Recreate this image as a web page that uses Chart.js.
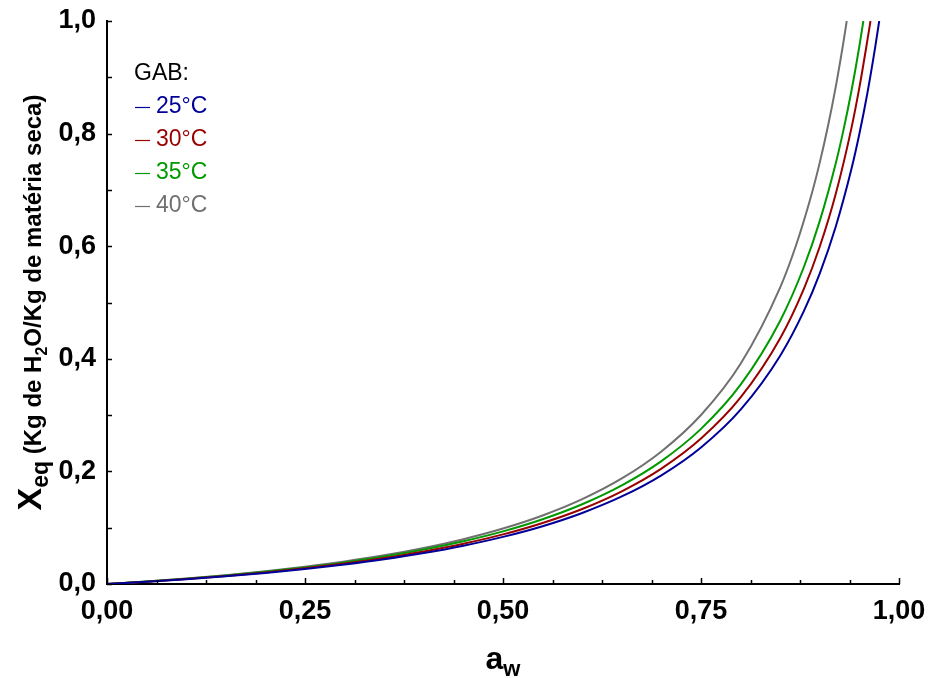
<!DOCTYPE html>
<html>
<head>
<meta charset="utf-8">
<script src="https://cdn.jsdelivr.net/npm/chart.js@4.4.0/dist/chart.umd.min.js"></script>
<style>
  html, body { margin: 0; padding: 0; background: #fff; }
  canvas { display: block; }
</style>
</head>
<body>
<canvas id="chart" width="928" height="678"></canvas>
<script>
// values (aw on x, Xeq on y)
const aw25 = [0, 0.05, 0.1, 0.15, 0.2, 0.25, 0.3, 0.35, 0.4, 0.45, 0.5, 0.55, 0.6, 0.65, 0.7, 0.75, 0.8, 0.85, 0.88, 0.9, 0.92, 0.94, 0.95, 0.96, 0.97, 0.975];
const x25  = [0, 0.004, 0.0085, 0.0137, 0.0197, 0.0266, 0.0346, 0.0439, 0.0549, 0.068, 0.0837, 0.1027, 0.1262, 0.1555, 0.1931, 0.2425, 0.3096, 0.4055, 0.485, 0.5518, 0.634, 0.7374, 0.7997, 0.8712, 0.9539, 1.0];

const aw30 = [0, 0.05, 0.1, 0.15, 0.2, 0.25, 0.3, 0.35, 0.4, 0.45, 0.5, 0.55, 0.6, 0.65, 0.7, 0.75, 0.8, 0.85, 0.88, 0.9, 0.92, 0.94, 0.95, 0.96, 0.964];
const x30  = [0, 0.0042, 0.0089, 0.0144, 0.0206, 0.0278, 0.0363, 0.0461, 0.0577, 0.0715, 0.0881, 0.1084, 0.1333, 0.1647, 0.205, 0.2583, 0.3313, 0.4365, 0.5247, 0.5994, 0.6922, 0.8102, 0.882, 0.965, 1.0];

const aw35 = [0, 0.05, 0.1, 0.15, 0.2, 0.25, 0.3, 0.35, 0.4, 0.45, 0.5, 0.55, 0.6, 0.65, 0.7, 0.75, 0.8, 0.85, 0.88, 0.9, 0.92, 0.93, 0.94, 0.95, 0.955];
const x35  = [0, 0.0044, 0.0094, 0.0152, 0.0218, 0.0295, 0.0384, 0.0488, 0.0612, 0.0759, 0.0935, 0.1151, 0.1417, 0.1752, 0.2183, 0.2755, 0.354, 0.4677, 0.5635, 0.645, 0.7464, 0.8071, 0.8762, 0.9556, 1.0];

const aw40 = [0, 0.05, 0.1, 0.15, 0.2, 0.25, 0.3, 0.35, 0.4, 0.45, 0.5, 0.55, 0.6, 0.65, 0.7, 0.75, 0.8, 0.85, 0.87, 0.89, 0.9, 0.91, 0.92, 0.93, 0.934];
const x40  = [0, 0.0045, 0.0097, 0.0157, 0.0226, 0.0306, 0.0399, 0.0509, 0.064, 0.0796, 0.0985, 0.1217, 0.1507, 0.1875, 0.2355, 0.3002, 0.3912, 0.527, 0.6017, 0.6941, 0.7489, 0.8112, 0.8821, 0.9639, 1.0];

const seriesLabels = ["25°C", "30°C", "35°C", "40°C"];
const seriesColors = ["#000099", "#990000", "#009900", "#707070"];
const xTicksMajor = [0, 0.25, 0.5, 0.75, 1.0];
const yTicksMajor = [0, 0.2, 0.4, 0.6, 0.8, 1.0];

const FONT = 'Arial, "Liberation Sans", sans-serif';

function pts(xs, ys) {
  return xs.map((v, i) => ({ x: v, y: ys[i] }));
}

// inward tick marks, like the original
const innerTicks = {
  id: "innerTicks",
  afterDraw(chart) {
    const { ctx, chartArea: a, scales: { x, y } } = chart;
    ctx.save();
    ctx.strokeStyle = "#000";
    ctx.lineWidth = 1.5;
    ctx.beginPath();
    for (let v = 0; v <= 1.0001; v += 0.0625) {
      const px = Math.round(x.getPixelForValue(v)) + 0.5;
      const len = Math.abs(v / 0.25 - Math.round(v / 0.25)) < 1e-6 ? 6 : 4;
      ctx.moveTo(px, a.bottom);
      ctx.lineTo(px, a.bottom - len);
    }
    for (let v = 0; v <= 1.0001; v += 0.1) {
      const py = Math.round(y.getPixelForValue(v)) + 0.5;
      ctx.moveTo(a.left, py);
      ctx.lineTo(a.left + 5, py);
    }
    ctx.stroke();
    ctx.restore();
  }
};

function drawRuns(ctx, runs, cx, cy) {
  let total = 0;
  for (const r of runs) {
    ctx.font = r.font;
    r.w = ctx.measureText(r.text).width;
    total += r.w;
  }
  let x = cx - total / 2;
  for (const r of runs) {
    ctx.font = r.font;
    ctx.fillText(r.text, x, cy + (r.dy || 0));
    x += r.w;
  }
}

// axis titles with subscripts + the GAB legend
const decorations = {
  id: "decorations",
  afterDraw(chart) {
    const { ctx, chartArea: a } = chart;
    ctx.save();
    ctx.fillStyle = "#000";
    ctx.textBaseline = "alphabetic";
    ctx.textAlign = "left";

    drawRuns(ctx, [
      { text: "a", font: "bold 32px " + FONT },
      { text: "w", font: "bold 22px " + FONT, dy: 7 }
    ], (a.left + a.right) / 2, 669);

    ctx.translate(41, (a.top + a.bottom) / 2);
    ctx.rotate(-Math.PI / 2);
    drawRuns(ctx, [
      { text: "X", font: "bold 34px " + FONT },
      { text: "eq", font: "bold 23px " + FONT, dy: 7 },
      { text: " (Kg de H", font: "bold 24px " + FONT },
      { text: "2", font: "bold 16px " + FONT, dy: 6 },
      { text: "O/Kg de matéria seca)", font: "bold 24px " + FONT }
    ], 0, 0);
    ctx.restore();

    ctx.save();
    ctx.textBaseline = "middle";
    ctx.textAlign = "left";
    ctx.font = "23px " + FONT;
    ctx.fillStyle = "#000";
    ctx.fillText("GAB:", 134, 74);
    chart.data.datasets.forEach((ds, i) => {
      const yy = 107 + i * 33;
      ctx.strokeStyle = ds.borderColor;
      ctx.lineWidth = 1.2;
      ctx.beginPath();
      ctx.moveTo(135, yy + 0.5);
      ctx.lineTo(150, yy + 0.5);
      ctx.stroke();
      ctx.fillStyle = ds.borderColor;
      ctx.fillText(ds.label, 156, yy);
    });
    ctx.restore();
  }
};

const ctx = document.getElementById("chart").getContext("2d");
new Chart(ctx, {
  type: "scatter",
  data: {
    datasets: [
      { label: seriesLabels[0], data: pts(aw25, x25), borderColor: seriesColors[0] },
      { label: seriesLabels[1], data: pts(aw30, x30), borderColor: seriesColors[1] },
      { label: seriesLabels[2], data: pts(aw35, x35), borderColor: seriesColors[2] },
      { label: seriesLabels[3], data: pts(aw40, x40), borderColor: seriesColors[3] }
    ].map(d => Object.assign(d, {
      showLine: true, pointRadius: 0, borderWidth: 2,
      cubicInterpolationMode: "monotone", backgroundColor: d.borderColor
    }))
  },
  options: {
    responsive: false,
    animation: false,
    layout: { padding: { top: 21, right: 29, left: 0, bottom: 0 } },
    plugins: { legend: { display: false }, tooltip: { enabled: false } },
    scales: {
      x: {
        type: "linear", min: 0, max: 1,
        afterFit: s => { s.height = 94; s.paddingLeft = 0; s.paddingRight = 0; },
        afterBuildTicks: s => { s.ticks = xTicksMajor.map(v => ({ value: v })); },
        grid: { display: false, drawTicks: false },
        border: { display: true, color: "#000", width: 2 },
        ticks: {
          color: "#000", padding: 11, maxRotation: 0,
          font: { family: FONT, size: 27, weight: "bold" },
          callback: v => v.toFixed(2).replace(".", ",")
        }
      },
      y: {
        type: "linear", min: 0, max: 1,
        afterFit: s => { s.width = 107; s.paddingTop = 0; s.paddingBottom = 0; },
        afterBuildTicks: s => { s.ticks = yTicksMajor.map(v => ({ value: v })); },
        grid: { display: false, drawTicks: false },
        border: { display: true, color: "#000", width: 2 },
        ticks: {
          color: "#000", padding: 11,
          font: { family: FONT, size: 27, weight: "bold" },
          callback: v => v.toFixed(1).replace(".", ",")
        }
      }
    }
  },
  plugins: [innerTicks, decorations]
});
</script>
</body>
</html>
